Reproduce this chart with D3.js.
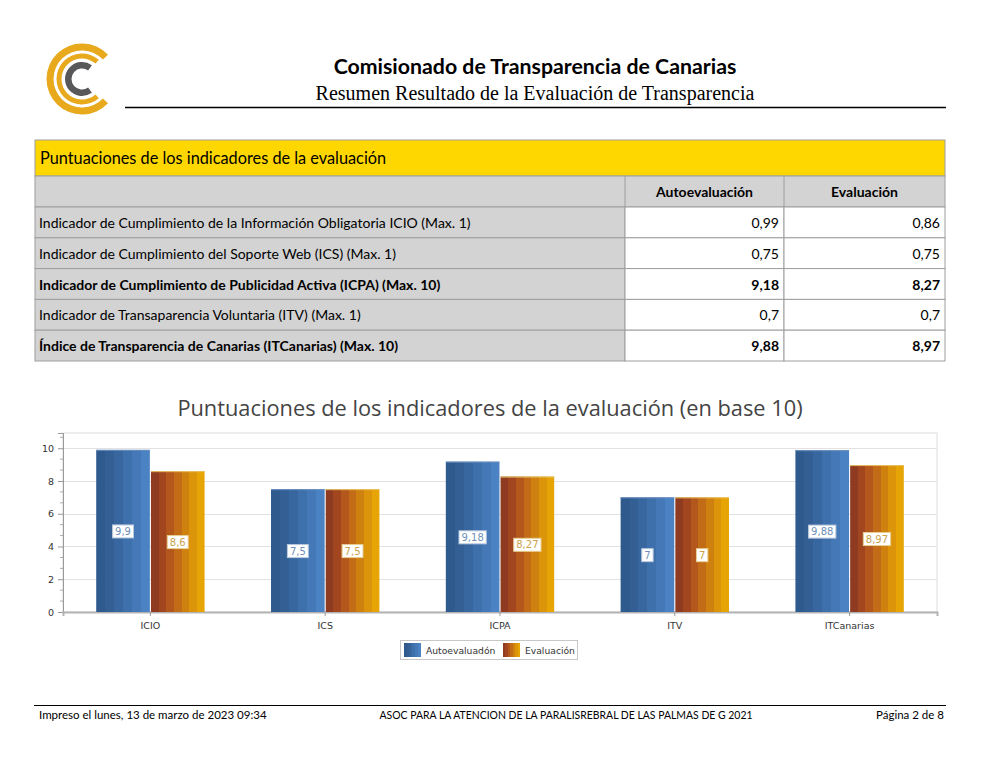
<!DOCTYPE html>
<html><head><meta charset="utf-8">
<script src="https://cdn.jsdelivr.net/npm/d3@7/dist/d3.min.js"></script>
<style>
html,body{margin:0;padding:0;background:#fff;}
svg{display:block;}
</style></head>
<body>
<svg id="page" width="983" height="757"></svg>
<script>
// ---------- DATA ----------
const headerTitle = "Comisionado de Transparencia de Canarias";
const headerSubtitle = "Resumen Resultado de la Evaluación de Transparencia";
const tableTitle = "Puntuaciones de los indicadores de la evaluación";
const tableColumns = ["Autoevaluación", "Evaluación"];
const indicatorLabels = [
  "Indicador de Cumplimiento de la Información Obligatoria ICIO (Max. 1)",
  "Indicador de Cumplimiento del Soporte Web (ICS) (Max. 1)",
  "Indicador de Cumplimiento de Publicidad Activa (ICPA) (Max. 10)",
  "Indicador de Transaparencia Voluntaria (ITV) (Max. 1)",
  "Índice de Transparencia de Canarias (ITCanarias) (Max. 10)"
];
const indicatorBold = [false, false, true, false, true];
const tableAuto = ["0,99", "0,75", "9,18", "0,7", "9,88"];
const tableEval = ["0,86", "0,75", "8,27", "0,7", "8,97"];

const chartTitle = "Puntuaciones de los indicadores de la evaluación (en base 10)";
const categories = ["ICIO", "ICS", "ICPA", "ITV", "ITCanarias"];
const seriesNames = ["Autoevaluadón", "Evaluación"];
const autoScores = [9.9, 7.5, 9.18, 7, 9.88];
const evalScores = [8.6, 7.5, 8.27, 7, 8.97];
const yTicks = [0, 2, 4, 6, 8, 10];

const footerLeft = "Impreso el lunes, 13 de marzo de 2023 09:34";
const footerCenter = "ASOC PARA LA ATENCION DE LA PARALISREBRAL DE LAS PALMAS DE G 2021";
const footerRight = "Página 2 de 8";

// ---------- DRAW ----------
const svg = d3.select("#page");
const sans = "Lato, 'Liberation Sans', sans-serif";
const chartFont = "'DejaVu Sans', Verdana, sans-serif";
const fmt = v => String(v).replace(".", ",");

// Logo (C opening to the right)
const logo = svg.append("g").attr("transform", "translate(82,79)");
const arcGen = d3.arc();
const open = Math.PI / 2;
logo.append("path").attr("d", arcGen({innerRadius: 28.5, outerRadius: 35.5, startAngle: open + 0.75, endAngle: open + 2 * Math.PI - 0.75})).attr("fill", "#e8a91c");
logo.append("path").attr("d", arcGen({innerRadius: 20.5, outerRadius: 25.5, startAngle: open + 0.85, endAngle: open + 2 * Math.PI - 0.85})).attr("fill", "#e8a91c");
logo.append("path").attr("d", arcGen({innerRadius: 10.5, outerRadius: 17, startAngle: open + 0.95, endAngle: open + 2 * Math.PI - 0.95})).attr("fill", "#58585a");

// Header
svg.append("text").attr("x", 535).attr("y", 74).attr("text-anchor", "middle")
  .style("font-family", sans).style("font-weight", "bold").style("font-size", "21.3px").attr("fill", "#000").text(headerTitle);
svg.append("text").attr("x", 535).attr("y", 100).attr("text-anchor", "middle")
  .style("font-family", "'Liberation Serif', 'Times New Roman', serif").style("font-size", "20px").attr("fill", "#000").text(headerSubtitle);
svg.append("line").attr("x1", 125).attr("x2", 946).attr("y1", 107.5).attr("y2", 107.5).attr("stroke", "#000").attr("stroke-width", 1.3);

// Table
const tX0 = 35, tX1 = 625, tX2 = 784, tX3 = 945;
const rowTop = 207, rowH = 30.8;
const border = "#9e9e9e";
svg.append("rect").attr("x", tX0).attr("y", 140).attr("width", tX3 - tX0).attr("height", 36).attr("fill", "#ffd700").attr("stroke", border);
svg.append("text").attr("x", 40).attr("y", 164).style("font-family", sans).style("font-size", "16.3px").attr("fill", "#000").text(tableTitle);
svg.append("rect").attr("x", tX0).attr("y", 176).attr("width", tX3 - tX0).attr("height", 31).attr("fill", "#d3d3d3").attr("stroke", border);
svg.append("line").attr("x1", tX1).attr("x2", tX1).attr("y1", 176).attr("y2", 207).attr("stroke", border);
svg.append("line").attr("x1", tX2).attr("x2", tX2).attr("y1", 176).attr("y2", 207).attr("stroke", border);
tableColumns.forEach((c, i) => {
  const cx = i === 0 ? (tX1 + tX2) / 2 : (tX2 + tX3) / 2;
  svg.append("text").attr("x", cx).attr("y", 197).attr("text-anchor", "middle")
    .style("font-family", sans).style("font-weight", "bold").style("font-size", "14px").text(c);
});
const rows = svg.append("g").selectAll("g").data(indicatorLabels).join("g")
  .attr("transform", (d, i) => `translate(0,${rowTop + i * rowH})`);
rows.append("rect").attr("x", tX0).attr("width", tX1 - tX0).attr("height", rowH).attr("fill", "#d3d3d3").attr("stroke", border);
rows.append("rect").attr("x", tX1).attr("width", tX2 - tX1).attr("height", rowH).attr("fill", "#fff").attr("stroke", border);
rows.append("rect").attr("x", tX2).attr("width", tX3 - tX2).attr("height", rowH).attr("fill", "#fff").attr("stroke", border);
rows.append("text").attr("x", 39).attr("y", 21).style("font-family", sans).style("font-size", "14px")
  .style("font-weight", (d, i) => indicatorBold[i] ? "bold" : "normal").text(d => d);
rows.append("text").attr("x", tX2 - 5).attr("y", 21).attr("text-anchor", "end").style("font-family", sans).style("font-size", "14px")
  .style("font-weight", (d, i) => indicatorBold[i] ? "bold" : "normal").text((d, i) => tableAuto[i]);
rows.append("text").attr("x", tX3 - 5).attr("y", 21).attr("text-anchor", "end").style("font-family", sans).style("font-size", "14px")
  .style("font-weight", (d, i) => indicatorBold[i] ? "bold" : "normal").text((d, i) => tableEval[i]);

// Chart title
svg.append("text").attr("x", 490).attr("y", 416).attr("text-anchor", "middle")
  .style("font-family", "'Open Sans', 'Noto Sans', sans-serif").style("font-size", "21.8px").attr("fill", "#444").text(chartTitle);

// Chart
const pL = 63, pR = 937, pT = 433, pB = 612;
const y = d3.scaleLinear().domain([0, 10.93]).range([pB, pT]);
const x = d3.scaleBand().domain(categories).range([pL, pR]);
const defs = svg.append("defs");
function stripes(id, cols) {
  const g = defs.append("linearGradient").attr("id", id).attr("x1", "0").attr("x2", "1").attr("y1", "0").attr("y2", "0");
  const n = cols.length;
  cols.forEach((c, i) => {
    g.append("stop").attr("offset", i / n).attr("stop-color", c);
    g.append("stop").attr("offset", (i + 1) / n).attr("stop-color", c);
  });
}
stripes("gBlue", ["#2f5a8d", "#335f95", "#38679f", "#3e70ab", "#4578b7", "#4b82c4"]);
stripes("gOrange", ["#8e3b22", "#a2461f", "#b3571c", "#c26c17", "#cf8110", "#dc950a", "#e6a504"]);

// frame & grid
svg.append("rect").attr("x", pL).attr("y", pT).attr("width", pR - pL).attr("height", pB - pT).attr("fill", "none").attr("stroke", "#dcdcdc");
svg.append("g").selectAll("line").data(yTicks.filter(t => t > 0)).join("line")
  .attr("x1", pL).attr("x2", pR).attr("y1", d => Math.round(y(d)) + 0.5).attr("y2", d => Math.round(y(d)) + 0.5).attr("stroke", "#e2e2e2");

// y axis
const yAxis = d3.axisLeft(y).tickValues(yTicks).tickSize(5).tickPadding(4).tickFormat(d3.format("d"));
const yg = svg.append("g").attr("transform", `translate(${pL},0)`).call(yAxis);
yg.select(".domain").attr("stroke", "#999");
yg.selectAll(".tick line").attr("stroke", "#999");
yg.selectAll("text").style("font-family", chartFont).style("font-size", "9.5px").attr("fill", "#333");
const minor = d3.range(0, 10.93, 2 / 3).filter(v => Math.abs(v / 2 - Math.round(v / 2)) > 0.01);
yg.append("g").selectAll("line").data(minor).join("line")
  .attr("x1", -3).attr("x2", 0).attr("y1", d => y(d)).attr("y2", d => y(d)).attr("stroke", "#aaa");

// x axis
const xAxis = d3.axisBottom(x).tickSize(4).tickPadding(6);
const xg = svg.append("g").attr("transform", `translate(0,${pB})`).call(xAxis);
xg.select(".domain").attr("stroke", "#b4b4b4").attr("stroke-width", 2);
xg.selectAll(".tick line").attr("stroke", "#999");
xg.selectAll("text").style("font-family", chartFont).style("font-size", "9.5px").attr("fill", "#333");

// bars
const groupW = x.bandwidth() * 0.62;
const series = [
  {name: seriesNames[0], values: autoScores, fill: "url(#gBlue)", edge: "#6a8fc0", txt: "#6f8fb8", box: "#b9c9dd"},
  {name: seriesNames[1], values: evalScores, fill: "url(#gOrange)", edge: "#e9c060", txt: "#c9a24a", box: "#e6cf92"}
];
categories.forEach((c, ci) => {
  const cx = x(c) + x.bandwidth() / 2;
  const x1 = d3.scaleBand().domain(seriesNames).range([cx - groupW / 2, cx + groupW / 2]).paddingInner(0.02);
  series.forEach(s => {
    const v = s.values[ci];
    const bx = x1(s.name), bw = x1.bandwidth();
    svg.append("rect").attr("x", bx).attr("y", y(v)).attr("width", bw).attr("height", y(0) - y(v))
      .attr("fill", s.fill);
    svg.append("line").attr("x1", bx).attr("x2", bx + bw).attr("y1", y(v) + 0.5).attr("y2", y(v) + 0.5).attr("stroke", s.edge).attr("stroke-width", 1);
    const lx = bx + bw / 2, ly = y(v / 2);
    const t = svg.append("text").attr("x", lx).attr("y", ly + 4).attr("text-anchor", "middle")
      .style("font-family", chartFont).style("font-size", "10px").attr("fill", s.txt).text(fmt(v));
    const bb = t.node().getBBox();
    svg.insert("rect", function(){ return t.node(); }).attr("x", bb.x - 2.5).attr("y", bb.y - 1).attr("width", bb.width + 5).attr("height", bb.height + 2)
      .attr("fill", "#fff").attr("stroke", s.box).attr("stroke-width", 1);
  });
});

// legend
const lg = svg.append("g").attr("transform", "translate(400,640)");
lg.append("rect").attr("x", 0.5).attr("y", 0.5).attr("width", 177).attr("height", 19).attr("fill", "#fff").attr("stroke", "#c8c8c8");
const li = [{x: 4, fill: "url(#gBlue)", name: seriesNames[0]}, {x: 103, fill: "url(#gOrange)", name: seriesNames[1]}];
li.forEach(d => {
  lg.append("rect").attr("x", d.x).attr("y", 3).attr("width", 17).attr("height", 14).attr("fill", d.fill);
  lg.append("text").attr("x", d.x + 22).attr("y", 13.5).style("font-family", chartFont).style("font-size", "9.2px").attr("fill", "#333").text(d.name);
});

// footer
svg.append("line").attr("x1", 34).attr("x2", 946).attr("y1", 705.5).attr("y2", 705.5).attr("stroke", "#000").attr("stroke-width", 1);
const ff = {family: sans, size: "11.5px"};
svg.append("text").attr("x", 39).attr("y", 719).style("font-family", ff.family).style("font-size", ff.size).text(footerLeft);
svg.append("text").attr("x", 566).attr("y", 719).attr("text-anchor", "middle").style("font-family", ff.family).style("font-size", ff.size)
  .attr("textLength", 373).attr("lengthAdjust", "spacingAndGlyphs").text(footerCenter);
svg.append("text").attr("x", 944).attr("y", 719).attr("text-anchor", "end").style("font-family", ff.family).style("font-size", ff.size).text(footerRight);
</script>
</body></html>
